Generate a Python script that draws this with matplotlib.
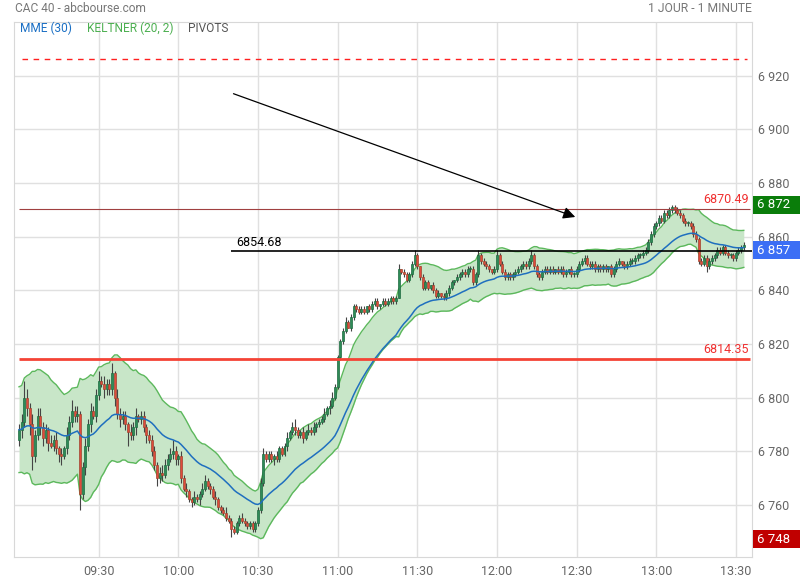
import matplotlib
matplotlib.use('Agg')
import matplotlib.pyplot as plt
from matplotlib import transforms
from matplotlib.patches import Rectangle
import numpy as np
import pandas as pd

plt.rcParams['font.family'] = ['Roboto', 'DejaVu Sans']

# 1-minute closes from 09:00, one row = 10 minutes
first_open = 6784
closes = [
    6788, 6791, 6800, 6796, 6790, 6778, 6786, 6793, 6789, 6785,
    6788, 6783, 6782, 6784, 6781, 6779, 6778, 6781, 6786, 6791,
    6795, 6793, 6794, 6764, 6774, 6782, 6790, 6795, 6793, 6801,
    6806, 6805, 6803, 6805, 6803, 6809, 6800, 6794, 6792, 6793,
    6790, 6787, 6786, 6789, 6793, 6792, 6793, 6789, 6786, 6784,
    6780, 6775, 6770, 6772, 6771, 6775, 6777, 6779, 6780, 6777,
    6778, 6770, 6766, 6765, 6762, 6761, 6763, 6762, 6764, 6766,
    6769, 6767, 6766, 6763, 6762, 6759, 6758, 6757, 6755, 6754,
    6751, 6750, 6753, 6755, 6754, 6753, 6752, 6753, 6751, 6753,
    6758, 6768, 6779, 6777, 6779, 6777, 6778, 6777, 6781, 6779,
    6782, 6785, 6787, 6789, 6788, 6786, 6787, 6785, 6787, 6788,
    6787, 6789, 6790, 6791, 6792, 6794, 6796, 6797, 6800, 6804,
    6815, 6821, 6825, 6828, 6826, 6830, 6834, 6833, 6832, 6833,
    6832, 6834, 6833, 6835, 6836, 6834, 6835, 6836, 6835, 6836,
    6837, 6836, 6837, 6848, 6847, 6846, 6844, 6846, 6850, 6853,
    6849, 6845, 6841, 6843, 6841, 6842, 6840, 6838, 6839, 6838,
    6837.5, 6839, 6841, 6843, 6844, 6845, 6846, 6847, 6846, 6848,
    6848, 6843, 6846, 6853, 6851, 6850, 6849, 6848, 6847, 6848,
    6853, 6850, 6847, 6845, 6846, 6845, 6846, 6847, 6848, 6849,
    6850, 6849, 6851, 6853, 6849, 6846, 6845, 6847, 6848, 6847,
    6848, 6847, 6848, 6847, 6848, 6846, 6847, 6848, 6846, 6846,
    6848, 6850, 6851, 6852, 6850, 6849, 6850, 6848, 6849, 6848,
    6849, 6848, 6849, 6846, 6848, 6850, 6851, 6850, 6849, 6850,
    6851, 6851, 6852, 6853, 6853, 6854, 6855, 6858, 6861, 6864,
    6865, 6867, 6866, 6869, 6868, 6870, 6871, 6870, 6869, 6868,
    6866, 6865, 6865, 6864, 6861, 6859, 6851, 6850, 6852, 6849,
    6851, 6852, 6853, 6855, 6854, 6856, 6854, 6853, 6853, 6852,
    6854, 6855, 6856, 6857,
]
# upper / lower wick lengths (points) per candle
wick_up = [
    "2363242332", "2132312132", "4231232322", "4232241322", "2132312212",
    "2212322242", "1212112112", "2111211121", "1111211111", "1221111211",
    "1212311212", "1211121221", "1112111111", "1011110111", "1112011112",
    "1011101110", "1111011111", "1112111101", "2111111111", "1112111111",
    "1101111011", "1111111111", "1101111011", "1111111111", "1111111111",
    "1111111111", "1111111111", "1111",
]
wick_dn = [
    "2323452233", "2312233122", "2226232312", "2132223232", "2522312231",
    "2232212122", "2212121121", "1121211111", "3111111111", "1111112111",
    "1211211211", "1121111211", "1111011111", "1111111111", "1110111111",
    "1111111111", "1111111111", "1111111111", "1111111111", "1111111111",
    "1111111111", "1111111111", "1111111111", "1111111111", "1111111111",
    "1111111112", "1111111111", "1111",
]

x_ticks = [30, 60, 90, 120, 150, 180, 210, 240, 270]
x_labels = ['09:30', '10:00', '10:30', '11:00', '11:30', '12:00', '12:30', '13:00', '13:30']
y_ticks = [6760, 6780, 6800, 6820, 6840, 6860, 6880, 6900, 6920]
y_labels = ['6 760', '6 780', '6 800', '6 820', '6 840', '6 860', '6 880', '6 900', '6 920']

pivot_level = 6926.3
high_line = 6870.49
mid_line = 6854.68
low_line = 6814.35
arrow_start = (79.8, 6913.7)
arrow_end = (210.5, 6867.0)
badge_values = [6872, 6857, 6748]
badge_labels = ['6 872', '6 857', '6 748']
badge_colors = ['#0a7d0a', '#3b6ef5', '#c00000']

c = np.array(closes, dtype=float)
o = np.r_[first_open, c[:-1]]
up = np.array([int(d) for d in "".join(wick_up)])
dn = np.array([int(d) for d in "".join(wick_dn)])
hi = np.maximum(o, c) + up
lo = np.minimum(o, c) - dn
m = np.arange(len(c))

s = pd.Series(c)
ema30 = s.ewm(span=30, adjust=False).mean()
mid = s.ewm(span=20, adjust=False).mean()
prev = s.shift(1)
tr = pd.concat([pd.Series(hi - lo), (pd.Series(hi) - prev).abs(), (pd.Series(lo) - prev).abs()], axis=1).max(axis=1)
atr = tr.ewm(span=20, adjust=False).mean()
upper = mid + 2 * atr
lower = mid - 2 * atr

fig = plt.figure(figsize=(8, 5.8), dpi=100)
ax = fig.add_axes([14.5/800, 1-557/580, 737/800, 535/580])
ax.set_xlim(-1.7, 275.9)
ax.set_ylim(6740.5, 6940.1)

ax.fill_between(m, lower, upper, color='#c8e6c8', zorder=1, lw=0)
ax.plot(m, upper, color='#5cb85c', lw=1, zorder=1.5)
ax.plot(m, lower, color='#5cb85c', lw=1, zorder=1.5)

rise = c >= o
body_col = np.where(rise, '#2e8b57', '#e04a3c')
edge_col = np.where(rise, '#1e6b40', '#a0452e')
ax.vlines(m, lo, hi, color='#444444', lw=0.8, zorder=2)
ax.bar(m, np.maximum(np.abs(c - o), 0.4), bottom=np.minimum(o, c), width=0.75,
       color=body_col, edgecolor=edge_col, linewidth=0.5, zorder=3)

ax.plot(m, ema30, color='#1f6fbf', lw=1.1, zorder=4)

ax.hlines(pivot_level, 1.1, 274.2, colors='#ff2020', lw=1, linestyles=(0, (4, 4)), zorder=5)
ax.hlines(high_line, 0, 275.5, colors='#a04040', lw=0.8, zorder=5)
ax.hlines(low_line, 0, 275.5, colors='#f44336', lw=2, zorder=5)
ax.hlines(mid_line, arrow_start[0], 275.9, colors='black', lw=1.2, zorder=5)
ax.annotate('', xy=arrow_end, xytext=arrow_start,
            arrowprops=dict(arrowstyle='-|>', color='black', lw=0.9, mutation_scale=18), zorder=6)

ax.text(274.9, high_line + 0.8, '6870.49', color='#f03030', fontsize=9, ha='right', va='bottom')
ax.text(274.9, low_line + 1.0, '6814.35', color='#f03030', fontsize=9, ha='right', va='bottom')
ax.text(81.7, mid_line + 0.8, '6854.68', color='black', fontsize=9, ha='left', va='bottom')

ax.set_xticks(x_ticks)
ax.set_xticklabels(x_labels)
ax.set_yticks(y_ticks)
ax.set_yticklabels(y_labels)
ax.yaxis.tick_right()
ax.tick_params(length=0, colors='#666666', labelsize=9)
ax.tick_params(axis='x', pad=6)
ax.tick_params(axis='y', pad=5)
ax.grid(color='#e0e0e0', lw=1)
ax.set_axisbelow(True)
for sp in ax.spines.values():
    sp.set_color('#d8d8d8')

# value badges on the right edge; the last-price badge sits just under the 6 860 label
blend = transforms.blended_transform_factory(fig.transFigure, ax.transData)
shifts = [-0.1, -2.0, -0.8]
for val, txt, col, sh in zip(badge_values, badge_labels, badge_colors, shifts):
    yc = val + sh
    ax.add_patch(Rectangle((753/800, yc - 3.4), 47/800, 6.8, transform=blend,
                           facecolor=col, edgecolor='none', clip_on=False, zorder=7))
    ax.text(757/800, yc, txt, transform=blend, color='white', fontsize=9.5,
            va='center', ha='left', zorder=8, clip_on=False)

fig.text(15/800, 1-8.5/580, 'CAC 40 - abcbourse.com', color='#777777', fontsize=8.6, va='center')
fig.text(752/800, 1-8.5/580, '1 JOUR - 1 MINUTE', color='#777777', fontsize=8.7, va='center', ha='right')
fig.text(20/800, 1-28.5/580, 'MME (30)', color='#1a6fc4', fontsize=8.6, va='center')
fig.text(87/800, 1-28.5/580, 'KELTNER (20, 2)', color='#4caf50', fontsize=8.6, va='center')
fig.text(188/800, 1-28.5/580, 'PIVOTS', color='#555555', fontsize=8.6, va='center')

fig.savefig('out.png', dpi=100)
